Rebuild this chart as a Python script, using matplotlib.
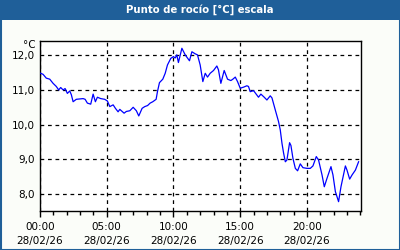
import matplotlib
matplotlib.use("Agg")
import matplotlib.pyplot as plt
from matplotlib.patches import Rectangle
from matplotlib.ticker import MultipleLocator, FixedLocator

# hours since 28/02/26 00:00 and dew point in degrees C
hours = [0.05, 0.23, 0.47, 0.73, 0.98, 1.22, 1.40, 1.55, 1.73, 1.88, 2.05, 2.23, 2.35, 2.48,
         2.72, 3.23, 3.38, 3.55, 3.80, 3.98, 4.15, 4.30, 4.55, 4.85, 5.05, 5.23, 5.48, 5.65,
         5.85, 5.98, 6.30, 6.47, 6.73, 6.98, 7.22, 7.40, 7.65, 7.85, 8.06, 8.25, 8.45, 8.70,
         8.80, 8.95, 9.20, 9.38, 9.55, 9.80, 10.00, 10.13, 10.25, 10.37, 10.63, 10.88, 11.20,
         11.38, 11.63, 11.80, 12.00, 12.20, 12.38, 12.55, 12.75, 13.00, 13.25, 13.37, 13.55,
         13.80, 14.05, 14.30, 14.45, 14.63, 14.80, 15.00, 15.25, 15.50, 15.62, 15.75, 16.00,
         16.37, 16.55, 16.80, 17.00, 17.25, 17.38, 17.63, 17.87, 18.00, 18.13, 18.25, 18.38,
         18.50, 18.70, 18.80, 18.95, 19.13, 19.30, 19.50, 19.70, 20.00, 20.25, 20.45, 20.70,
         20.87, 21.13, 21.30, 21.50, 21.80, 21.95, 22.13, 22.37, 22.55, 22.88, 23.00, 23.20,
         23.38, 23.63, 23.87]
dew_point = [11.48, 11.45, 11.34, 11.31, 11.19, 11.10, 11.00, 11.07, 11.00, 11.04, 10.90, 10.97,
             10.86, 10.66, 10.73, 10.75, 10.73, 10.62, 10.59, 10.88, 10.66, 10.79, 10.75, 10.73,
             10.68, 10.52, 10.57, 10.47, 10.37, 10.44, 10.33, 10.38, 10.40, 10.50, 10.40, 10.25,
             10.47, 10.52, 10.55, 10.62, 10.66, 10.73, 10.95, 11.21, 11.31, 11.48, 11.72, 11.91,
             11.96, 11.92, 12.01, 11.79, 12.20, 12.01, 11.84, 12.10, 12.04, 12.01, 11.72, 11.24,
             11.48, 11.37, 11.48, 11.56, 11.69, 11.58, 11.19, 11.56, 11.31, 11.27, 11.31, 11.37,
             11.24, 11.05, 11.08, 11.12, 11.10, 10.95, 10.98, 10.79, 10.88, 10.79, 10.71, 10.83,
             10.77, 10.42, 10.09, 9.85, 9.46, 9.18, 8.93, 8.98, 9.48, 9.40, 9.03, 8.74, 8.67,
             8.87, 8.76, 8.74, 8.74, 8.81, 9.08, 8.98, 8.55, 8.21, 8.45, 8.79, 8.55, 8.07, 7.78,
             8.21, 8.81, 8.69, 8.43, 8.55, 8.69, 8.93]

major_hours = [0, 5, 10, 15, 20]
x_labels = ["00:00\n28/02/26", "05:00\n28/02/26", "10:00\n28/02/26",
            "15:00\n28/02/26", "20:00\n28/02/26"]
y_ticks = [8, 9, 10, 11, 12]
y_labels = ["8,0", "9,0", "10,0", "11,0", "12,0"]
title = "Punto de rocío [°C] escala"

bar_blue = "#1f5f99"

fig = plt.figure(figsize=(4, 2.5), dpi=100, facecolor="#fbfdf9")

# title bar and frame
fig.patches.append(Rectangle((0, 230 / 250), 1, 20 / 250, transform=fig.transFigure,
                             facecolor=bar_blue, edgecolor="none", zorder=0))
fig.patches.append(Rectangle((0.5 / 400, 0.5 / 250), 399 / 400, 249 / 250,
                             transform=fig.transFigure, facecolor="none",
                             edgecolor=bar_blue, linewidth=1.5, zorder=0))
fig.text(0.5, 240 / 250, title, color="white", fontweight="bold", fontsize=7.3,
         ha="center", va="center")

ax = fig.add_axes([40 / 400, (250 - 210.7) / 250, 321 / 400, 169.7 / 250])
ax.plot(hours, dew_point, color="#0000ff", linewidth=0.9, zorder=3)

ax.set_xlim(0, 24.05)
ax.set_ylim(7.52, 12.41)

ax.xaxis.set_major_locator(FixedLocator(major_hours))
ax.xaxis.set_minor_locator(MultipleLocator(1))
ax.set_xticklabels(x_labels, fontsize=7.5, linespacing=1.55)
ax.set_yticks(y_ticks)
ax.set_yticklabels(y_labels, fontsize=7.5)

ax.tick_params(axis="x", which="major", length=4, width=1, pad=4)
ax.tick_params(axis="x", which="minor", length=3, width=1)
ax.tick_params(axis="y", length=0, pad=4)

ax.grid(True, which="major", color="black", linestyle=(0, (3, 3)), linewidth=0.9)
for s in ax.spines.values():
    s.set_linewidth(1)
ax.set_facecolor("white")

fig.text(36 / 400, (250 - 45) / 250, "°C", fontsize=7.5, ha="right", va="center")

fig.savefig("out.png", dpi=100, facecolor=fig.get_facecolor())
